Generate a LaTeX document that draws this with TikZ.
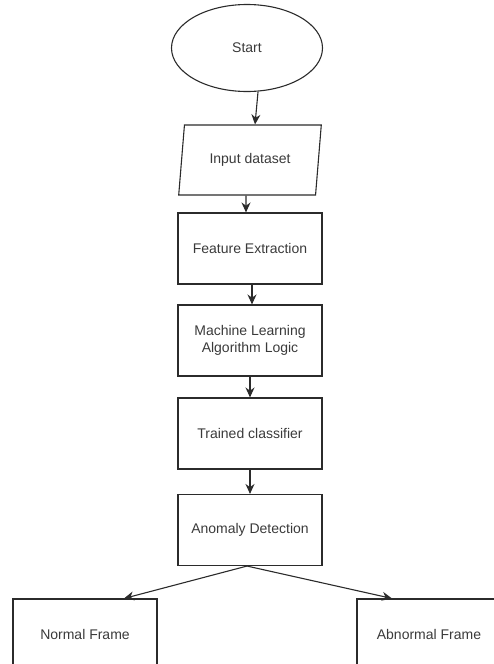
\documentclass[tikz,border=0pt]{standalone}
\usepackage{fontspec}
\setmainfont{Liberation Sans}
\usetikzlibrary{arrows.meta,positioning,shapes.geometric}
\definecolor{FlowLine}{HTML}{2B2B2B}
\definecolor{FlowText}{HTML}{3A3A3A}
\tikzset{>={Stealth[length=10pt,width=9pt]},every node/.style={font=\fontsize{14}{17.5}\selectfont,
 text=FlowText},process/.style={draw=FlowLine,line width=1.1pt,minimum width=144pt,
 minimum height=71pt,align=center},terminal/.style={ellipse,draw=FlowLine,line width=1.1pt,
 minimum width=151pt,minimum height=87pt},io/.style={trapezium,trapezium left angle=79,
 trapezium right angle=101,trapezium stretches=true,draw=FlowLine,line width=1.1pt,
 minimum width=144pt,minimum height=70pt},every edge/.style={draw=FlowLine,line width=1.1pt,->}}
\begin{document}
\begin{tikzpicture}[x=1pt,y=-1pt]
\clip (0,0) rectangle (494,664);
\node[terminal] (start) at (247,48) {Start};
\node[io] (input) at (250,160) {Input dataset};
\node[process] (feat) at (250,248.5) {Feature Extraction};
\node[process] (mll) at (250,340.5) {Machine Learning\\Algorithm Logic};
\node[process] (clf) at (250,433.5) {Trained classifier};
\node[process] (anom) at (250,530) {Anomaly Detection};
\node[process] (normal) at (85,634.5) {Normal Frame};
\node[process] (abnormal) at (429,634.5) {Abnormal Frame};
\draw ([xshift=11pt]start.south) edge ([xshift=5pt]input.north)
 ([xshift=-4pt]input.south) edge ([xshift=-4pt]feat.north)
 ([xshift=2pt]feat.south) edge ([xshift=2pt]mll.north)
 (mll) edge (clf) (clf) edge (anom)
 ([xshift=-3pt]anom.south) edge ([xshift=39pt]normal.north)
 ([xshift=-3pt]anom.south) edge ([xshift=-37pt]abnormal.north);
\end{tikzpicture}
\end{document}
